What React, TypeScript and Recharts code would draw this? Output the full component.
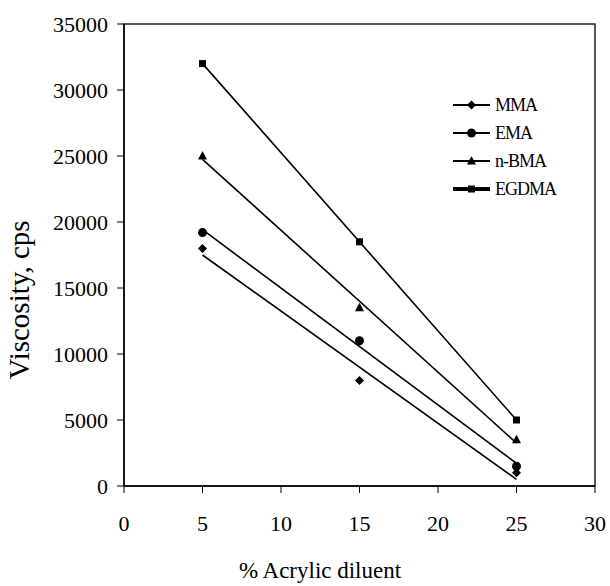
import { ScatterChart, Scatter, XAxis, YAxis, Label, ReferenceArea } from "recharts";

const xTicks = [0, 5, 10, 15, 20, 25, 30];
const yTicks = [0, 5000, 10000, 15000, 20000, 25000, 30000, 35000];
const diluent = [5, 15, 25];

const mma = [18000, 8000, 1000];
const ema = [19200, 11000, 1500];
const nbma = [25000, 13500, 3500];
const egdma = [32000, 18500, 5000];

const toPoints = (vals: number[]) => diluent.map((x, i) => ({ x, y: vals[i] }));

const font = "'Liberation Serif', 'Times New Roman', serif";

type P = { cx?: number; cy?: number };

const Diamond = ({ cx = 0, cy = 0 }: P) => (
  <path d={`M${cx},${cy - 4.5}L${cx + 4.5},${cy}L${cx},${cy + 4.5}L${cx - 4.5},${cy}Z`} fill="#000" />
);
const Dot = ({ cx = 0, cy = 0 }: P) => <circle cx={cx} cy={cy} r={4.5} fill="#000" />;
const Tri = ({ cx = 0, cy = 0 }: P) => (
  <path d={`M${cx},${cy - 5}L${cx + 4.5},${cy + 3.5}L${cx - 4.5},${cy + 3.5}Z`} fill="#000" />
);
const Sq = ({ cx = 0, cy = 0 }: P) => <rect x={cx - 3.5} y={cy - 3.5} width={7} height={7} fill="#000" />;

const series = [
  { name: "MMA", vals: mma, Shape: Diamond, legendWidth: 2 },
  { name: "EMA", vals: ema, Shape: Dot, legendWidth: 2 },
  { name: "n-BMA", vals: nbma, Shape: Tri, legendWidth: 2 },
  { name: "EGDMA", vals: egdma, Shape: Sq, legendWidth: 4 },
];

function LegendBox() {
  return (
    <div
      style={{
        position: "absolute",
        left: 453,
        top: 91,
        fontFamily: font,
        fontSize: 18,
        letterSpacing: -1,
        color: "#000",
      }}
    >
      {series.map(({ name, Shape, legendWidth }) => (
        <div key={name} style={{ display: "flex", alignItems: "center", height: 28 }}>
          <svg width={37} height={14} style={{ marginRight: 5 }}>
            <line x1={0} y1={7} x2={37} y2={7} stroke="#000" strokeWidth={legendWidth} />
            <Shape cx={18.5} cy={7} />
          </svg>
          <span>{name}</span>
        </div>
      ))}
    </div>
  );
}

export default function App() {
  return (
    <div style={{ position: "absolute", left: 0, top: 0, width: 610, height: 586 }}>
      <ScatterChart width={610} height={586} margin={{ top: 24, right: 15, bottom: 0, left: 0 }}>
        <XAxis
          type="number"
          dataKey="x"
          domain={[0, 30]}
          ticks={xTicks}
          height={100}
          tickSize={7}
          tickMargin={22}
          axisLine={{ stroke: "#000", strokeWidth: 1.5 }}
          tickLine={{ stroke: "#000" }}
          tick={{ fill: "#000", fontSize: 22, fontFamily: font }}
        >
          <Label
            content={() => (
              <text x={320} y={578} textAnchor="middle" fontFamily={font} fontSize={23} fill="#000">
                % Acrylic diluent
              </text>
            )}
          />
        </XAxis>
        <YAxis
          type="number"
          dataKey="y"
          domain={[0, 35000]}
          ticks={yTicks}
          width={124}
          tickSize={7}
          tickMargin={9}
          axisLine={{ stroke: "#000", strokeWidth: 1.5 }}
          tickLine={{ stroke: "#000" }}
          tick={{ fill: "#000", fontSize: 22, fontFamily: font }}
        >
          <Label
            content={() => (
              <text
                x={29}
                y={300}
                transform="rotate(-90 29 300)"
                textAnchor="middle"
                fontFamily={font}
                fontSize={29}
                fill="#000"
              >
                Viscosity, cps
              </text>
            )}
          />
        </YAxis>
        <ReferenceArea x1={0} x2={30} y1={0} y2={35000} fill="none" stroke="#222" strokeWidth={1.5} />
        {series.map(({ name, vals, Shape }) => (
          <Scatter
            key={name}
            name={name}
            data={toPoints(vals)}
            fill="#000"
            shape={(p: P) => <Shape cx={p.cx} cy={p.cy} />}
            line={{ stroke: "#000", strokeWidth: 1.6 }}
            lineType="fitting"
            isAnimationActive={false}
          />
        ))}
      </ScatterChart>
      <LegendBox />
    </div>
  );
}
